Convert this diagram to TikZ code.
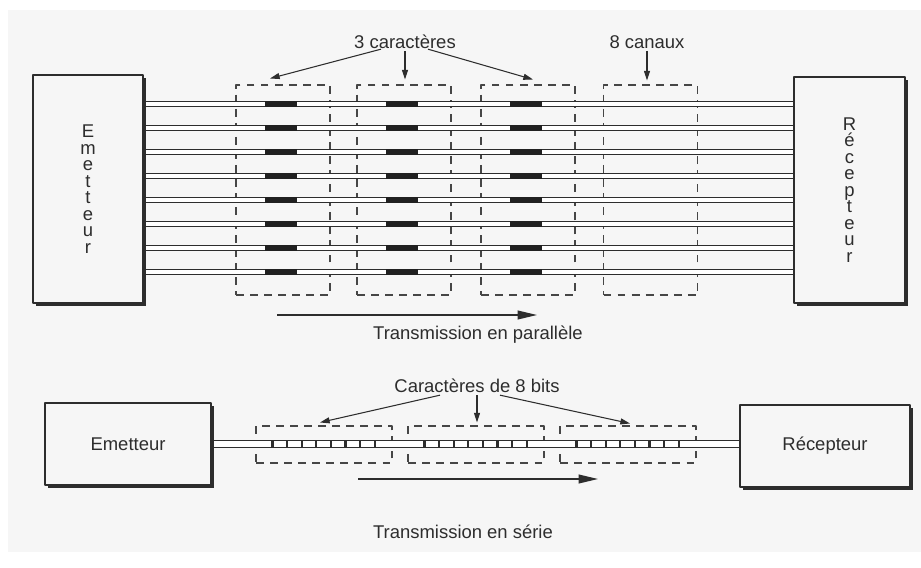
\documentclass[tikz,border=0pt]{standalone}
\usepackage{fontspec}
\setmainfont{Liberation Sans}
\usetikzlibrary{arrows.meta,calc,positioning,shadows}
\definecolor{fg}{RGB}{45,45,45}
\definecolor{mu}{RGB}{70,70,70}
\definecolor{bg}{RGB}{246,246,246}
\definecolor{blk}{RGB}{32,32,32}
\tikzset{
  every picture/.style={fg, line width=0.6pt, line join=round,
    >={Triangle[length=5.5pt,width=3.4pt]}},
  every node/.style={font=\fontsize{10.5}{12}\selectfont, text=fg},
  % Geräte
  dev/.style={draw, fill=bg, line width=0.9pt, inner sep=0pt,
    drop shadow={shadow xshift=1.6pt, shadow yshift=-1.6pt, fill=fg, opacity=1}},
  vtext/.style={align=center, font=\fontsize{10.5}{9.4}\selectfont},
  % Gruppen, gestrichelt
  grp/.style={draw=mu, dash pattern=on 4.5pt off 3.5pt, line width=0.6pt, inner sep=0pt},
  % Leitungen und Bits
  wire/.style={draw=fg, fill=white, line width=0.55pt},
  bitbar/.style={line width=1.3pt},
  ptr/.style={line width=0.6pt, ->},
  flow/.style={line width=0.8pt, -{Triangle[length=11pt,width=5pt]}},
  lbl/.style={inner sep=1pt},
}

\begin{document}
\begin{tikzpicture}[x=0.02cm, y=-0.02cm]
  % Hintergrund
  \useasboundingbox (0,0) rectangle (921,568);
  \fill[white] (0,0) rectangle (921,568);
  \fill[bg] (8,10) rectangle (921,552);
  % Parallele Übertragung
  \node[dev, vtext, minimum width=2.2cm, minimum height=4.56cm] (em) at (88,189)
    {E\\m\\e\\t\\t\\e\\u\\r};
  \node[dev, vtext, minimum width=2.22cm, minimum height=4.52cm] (rc) at (849.5,190)
    {R\\é\\c\\e\\p\\t\\e\\u\\r};
  \foreach \x [count=\n] in {283,404,528,650.5}
    \node[grp, minimum width=1.88cm, minimum height=4.2cm] (k\n) at (\x,190) {};
  \foreach \i in {0,...,7} {
    \coordinate (c) at (0,{104+24*\i});
    \draw[wire] ($(em.east |- c)+(2,-2.5)$) rectangle ($(rc.west |- c)+(0,2.5)$);
    \foreach \n in {1,2,3}
      \fill[blk] ($(k\n.west |- c)+(30,-3.2)$) rectangle +(32,6.4);
  }
  \node[lbl] (car) at (405,42) {3 caractères};
  \node[lbl] (can) at (647,42) {8 canaux};
  \draw[ptr] ($(car.south)+(-24,-2)$) -- ($(k1.north)+(-13,-6)$);
  \draw[ptr] (car.south) -- ($(car.south |- k2.north)+(0,-5)$);
  \draw[ptr] ($(car.south)+(23,-2)$) -- ($(k3.north)+(5,-5)$);
  \draw[ptr] (can.south) -- ($(can.south |- k4.north)+(0,-4)$);
  \coordinate (p0) at (277,315);
  \coordinate (p1) at (537,315);
  \draw[flow] (p0) -- (p1);
  \node (tp) at (478,335) {Transmission en parallèle};
  % Serielle Übertragung
  \node[dev, minimum width=3.32cm, minimum height=1.64cm] (em2) at (128,444) {Emetteur};
  \node[dev, minimum width=3.4cm, minimum height=1.64cm] (rc2) at (825,446) {Récepteur};
  \foreach \x [count=\n] in {324,476,628}
    \node[grp, minimum width=2.72cm, minimum height=0.74cm] (s\n) at (\x,444.5) {};
  \coordinate (d) at (0,444);
  \draw[wire] ($(em2.east |- d)+(2,-3.5)$) rectangle ($(rc2.west |- d)+(0,3.5)$);
  \foreach \n in {1,2,3}
    \foreach \b in {0,...,7}
      \draw[bitbar] ($(s\n.west |- d)+({17+14.6*\b},-3.5)$) -- +(0,7);
  \node[lbl] (cb) at (477,386) {Caractères de 8 bits};
  \draw[ptr] ($(cb.south)+(-37,0)$) -- ($(s1.north)+(-4,-3)$);
  \draw[ptr] (cb.south) -- ($(cb.south |- s2.north)+(0,-3)$);
  \draw[ptr] ($(cb.south)+(23,0)$) -- ($(s3.north)+(2,-2)$);
  \coordinate (q0) at (358,479);
  \coordinate (q1) at (598,479);
  \draw[flow] (q0) -- (q1);
  \node (ts) at (463,532) {Transmission en série};
\end{tikzpicture}
\end{document}
